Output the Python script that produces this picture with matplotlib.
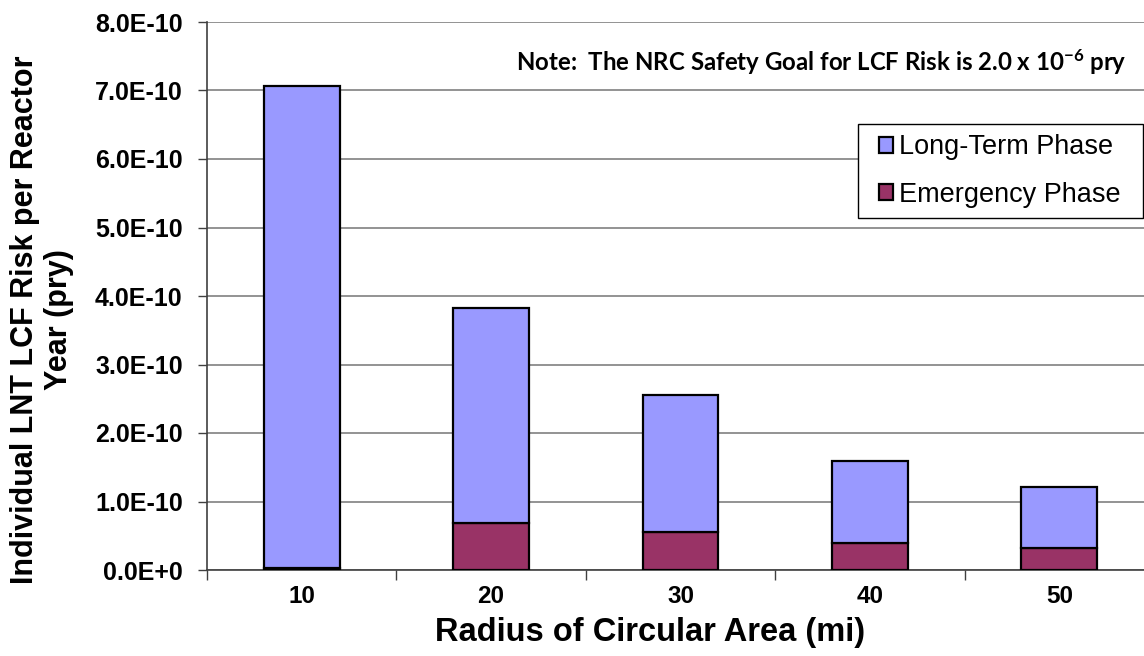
import numpy as np
import matplotlib.pyplot as plt
from matplotlib.patches import Rectangle

plt.rcParams['font.family'] = ['Liberation Sans', 'DejaVu Sans']
plt.rcParams['mathtext.fontset'] = 'custom'
plt.rcParams['mathtext.rm'] = 'Lato:bold'
plt.rcParams['mathtext.it'] = 'Lato:bold'
plt.rcParams['mathtext.bf'] = 'Lato:bold'

# data (units of 1e-10 per reactor year)
radius = ['10', '20', '30', '40', '50']
emergency = [0.03, 0.69, 0.56, 0.40, 0.32]
long_term = [7.04, 3.14, 1.99, 1.19, 0.89]

emergency = np.array(emergency) * 1e-10
long_term = np.array(long_term) * 1e-10

W, H = 1144, 656
fig = plt.figure(figsize=(W / 100, H / 100), dpi=100)
ax = fig.add_axes([207 / W, 86 / H, 947 / W, 548 / H])

x = np.arange(len(radius))
w = 0.40
ax.bar(x, emergency, w, color='#993366', edgecolor='black', linewidth=1.6,
       label='Emergency Phase', zorder=3)
ax.bar(x, long_term, w, bottom=emergency, color='#9999FF', edgecolor='black',
       linewidth=1.6, label='Long-Term Phase', zorder=3)

ax.set_xlim(-0.5, 4.5)
ax.set_ylim(0, 8e-10)
yt = np.arange(0, 9) * 1e-10
ax.set_yticks(yt)
ax.set_yticklabels(['0.0E+0'] + ['%.1fE-10' % v for v in np.arange(1, 9)],
                   fontsize=18, fontweight='bold')
ax.set_xticks(x)
ax.set_xticklabels(radius, fontsize=17.5, fontweight='bold')
ax.set_xticks(np.arange(-0.5, 5, 1), minor=True)
ax.tick_params(axis='x', which='major', length=0, pad=11)
ax.tick_params(axis='x', which='minor', length=7, width=1, color='#404040')
ax.tick_params(axis='y', length=6.5, width=1, color='#404040', pad=11)

ax.grid(axis='y', color='#808080', linewidth=1.2, zorder=0)
for s in ['top', 'right']:
    ax.spines[s].set_visible(False)
ax.spines['left'].set_color('#404040')
ax.spines['bottom'].set_color('#404040')
ax.spines['left'].set_linewidth(1.2)
ax.spines['bottom'].set_linewidth(1.2)

fig.text(650 / W, 1 - 633 / H, 'Radius of Circular Area (mi)',
         ha='center', va='center', fontsize=23.5, fontweight='bold')
fig.text(42 / W, 1 - 320 / H, 'Individual LNT LCF Risk per Reactor\nYear (pry)',
         ha='center', va='center', rotation=90, multialignment='center',
         fontsize=22, fontweight='bold', linespacing=1.15)

fig.text(1127 / W, 1 - 62 / H,
         'Note:  The NRC Safety Goal for LCF Risk is 2.0 x 10$^{-6}$ pry',
         ha='right', va='center', fontsize=17.3, family='Lato', fontweight='bold')

# legend: frame drawn separately so padding can differ per side
ax.add_patch(Rectangle((858 / W, 1 - 218 / H), 285 / W, 94 / H,
                       transform=fig.transFigure, facecolor='white',
                       edgecolor='black', linewidth=1, zorder=4, clip_on=False))
h, l = ax.get_legend_handles_labels()
leg = ax.legend(h[::-1], l[::-1], loc='center',
                bbox_to_anchor=(1000 / W, 1 - 171 / H), bbox_transform=fig.transFigure,
                fontsize=19.5, frameon=False,
                handlelength=0.52, handleheight=0.52, handletextpad=0.22,
                labelspacing=0.78, borderpad=0, borderaxespad=0)
leg.set_zorder(5)

fig.savefig('out.png', dpi=100)
